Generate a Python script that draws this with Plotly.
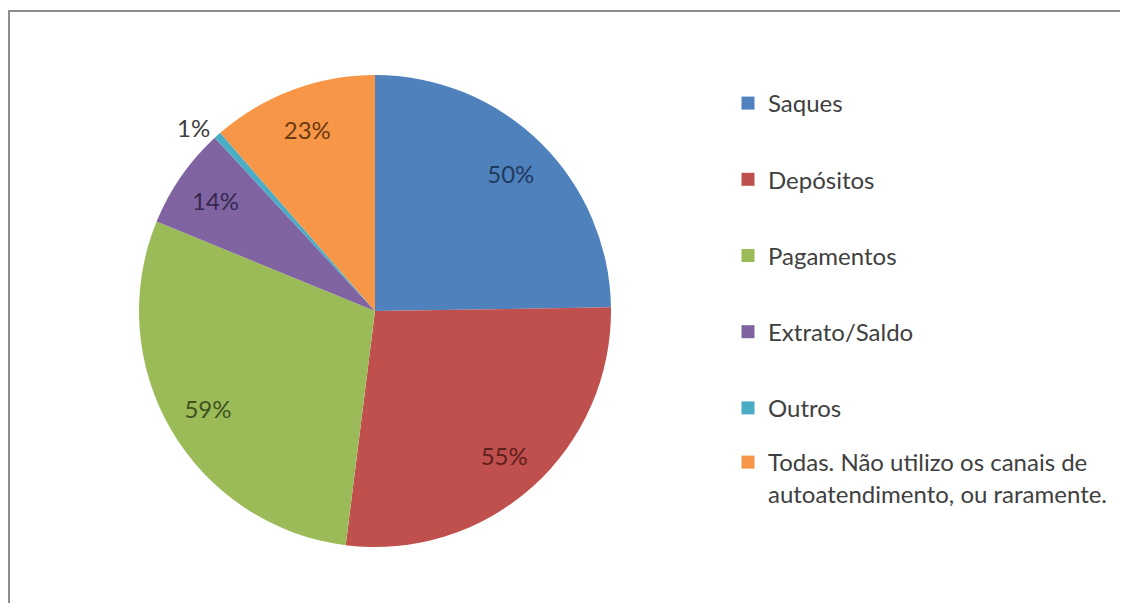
import plotly.graph_objects as go

categories = ["Saques", "Depósitos", "Pagamentos", "Extrato/Saldo", "Outros",
              "Todas. Não utilizo os canais de autoatendimento, ou raramente."]
legend_labels = ["Saques", "Depósitos", "Pagamentos", "Extrato/Saldo", "Outros",
                 "Todas. Não utilizo os canais de<br>autoatendimento, ou raramente."]
values = [50, 55, 59, 14, 1, 23]
value_labels = ["50%", "55%", "59%", "14%", "1%", "23%"]

colors = ["#4F81BD", "#C0504D", "#9BBB59", "#8064A2", "#4BACC6", "#F79646"]
text_colors = ["#1f3a5f", "#5e1f1d", "#3f5220", "#352850", "#404040", "#6b3a12"]
text_pos = ["inside", "inside", "inside", "inside", "outside", "inside"]

FONT = "Lato, 'Open Sans', sans-serif"
W, H = 1128, 603
# page body has an 8px offset; positions below are in figure pixels
cx, cy, r = 367, 303, 236
dom = dict(x=[(cx - r) / W, (cx + r) / W], y=[(H - cy - r) / H, (H - cy + r) / H])

fig = go.Figure()
# filled pie (no text)
fig.add_trace(go.Pie(
    labels=categories, values=values, textinfo="none",
    sort=False, direction="clockwise", rotation=0,
    marker=dict(colors=colors, line=dict(width=0)),
    showlegend=False, hoverinfo="label+value", domain=dom,
))
# transparent ring carrying the data labels at ~0.8 r
fig.add_trace(go.Pie(
    labels=categories, values=values, text=value_labels,
    textinfo="text", textposition=text_pos, hole=0.64,
    insidetextorientation="horizontal",
    sort=False, direction="clockwise", rotation=0,
    marker=dict(colors=["rgba(0,0,0,0)"] * len(values), line=dict(width=0)),
    textfont=dict(family=FONT, size=24, color=text_colors),
    showlegend=False, hoverinfo="skip", domain=dom,
))

for i, (lab, col) in enumerate(zip(legend_labels, colors)):
    fig.add_trace(go.Scatter(
        x=[None], y=[None], mode="markers", name=lab,
        marker=dict(symbol="square", size=13, color=col),
        legendgroup=f"g{i}", showlegend=True,
        legend="legend2" if i == len(legend_labels) - 1 else "legend",
    ))

leg_common = dict(
    x=720 / W, xanchor="left", yanchor="top",
    font=dict(family=FONT, size=24, color="#404040"),
    valign="top", bgcolor="rgba(0,0,0,0)",
)

fig.update_layout(
    width=W, height=H,
    margin=dict(l=0, r=0, t=0, b=0),
    paper_bgcolor="white", plot_bgcolor="white",
    xaxis=dict(visible=False), yaxis=dict(visible=False),
    font=dict(family=FONT, color="#404040"),
    legend=dict(y=1 - 73 / H, tracegroupgap=42, **leg_common),
    legend2=dict(y=1 - 432 / H, **leg_common),
    shapes=[dict(type="rect", xref="paper", yref="paper",
                 x0=1 / W, x1=1.1, y0=-0.1, y1=1 - 3 / H,
                 line=dict(color="#8c8c8c", width=2), layer="below")],
)

fig.write_html("out.html")
